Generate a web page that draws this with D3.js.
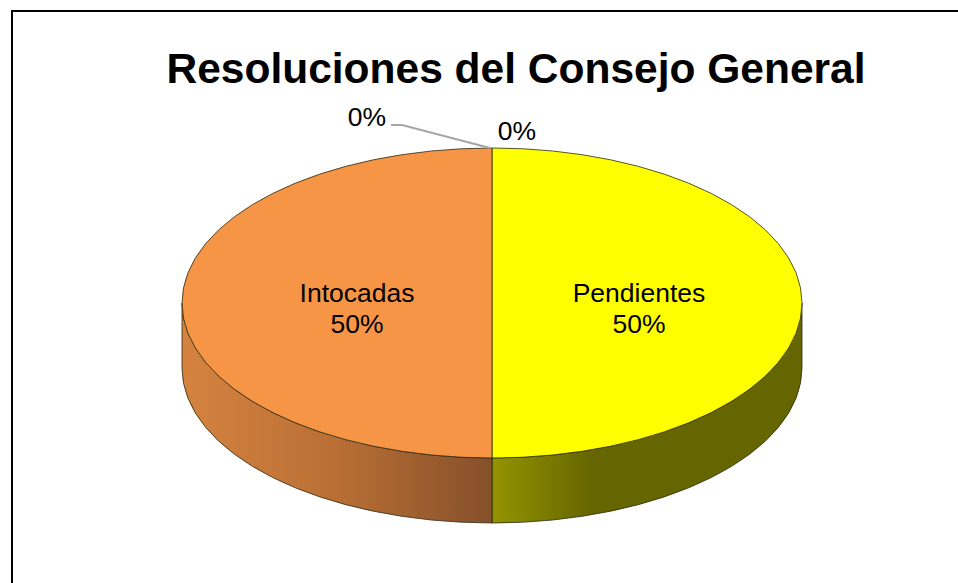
<!DOCTYPE html>
<html>
<head>
<meta charset="utf-8">
<script src="https://cdnjs.cloudflare.com/ajax/libs/d3/7.8.5/d3.min.js"></script>
<style>
  html, body { margin: 0; padding: 0; background: #fff; overflow: hidden; }
  text { font-family: "Liberation Sans", Arial, sans-serif; fill: #000; }
</style>
</head>
<body>
<svg id="chart"></svg>
<script>
const title = 'Resoluciones del Consejo General';
const categories = ['Pendientes', '', '', 'Intocadas'];
const values = [50, 0, 0, 50];
const percentLabels = ['50%', '0%', '0%', '50%'];
const sliceColors = ['#ffff00', '#ffff00', '#f69545', '#f69545'];

const width = 958, height = 583;
const cx = 492, cy = 303, rx = 310, ry = 155, depth = 65;

const svg = d3.select('#chart').attr('width', width).attr('height', height);

// frame runs off the right and bottom of the picture
svg.append('path')
    .attr('d', `M12,${height} V11 H${width}`)
    .attr('fill', 'none')
    .attr('stroke', '#000')
    .attr('stroke-width', 2);

const defs = svg.append('defs');
const sideGradients = [
    { id: 'sideOrange', x1: cx - rx, x2: cx, stops: [['0%', '#d5833f'], ['50%', '#b96f35'], ['100%', '#85502a']] },
    { id: 'sideYellow', x1: cx, x2: cx + rx, stops: [['0%', '#949400'], ['32%', '#666600'], ['100%', '#666600']] }
];
sideGradients.forEach(g => {
    const lg = defs.append('linearGradient')
        .attr('id', g.id)
        .attr('gradientUnits', 'userSpaceOnUse')
        .attr('x1', g.x1).attr('x2', g.x2).attr('y1', 0).attr('y2', 0);
    g.stops.forEach(s => lg.append('stop').attr('offset', s[0]).attr('stop-color', s[1]));
});

const pie = d3.pie().sort(null).value(d => d);
const slices = pie(values);

const px = a => cx + rx * Math.sin(a);
const py = a => cy - ry * Math.cos(a);

// outer wall of a slice, only the part facing the viewer
function wallPath(a0, a1) {
    const from = Math.max(a0, Math.PI / 2), to = Math.min(a1, Math.PI * 1.5);
    if (to <= from) return null;
    return `M${px(from)},${py(from)}` +
        `A${rx},${ry} 0 0 1 ${px(to)},${py(to)}` +
        `V${py(to) + depth}` +
        `A${rx},${ry} 0 0 0 ${px(from)},${py(from) + depth}Z`;
}

const wallFill = ['url(#sideYellow)', null, null, 'url(#sideOrange)'];
slices.forEach((s, i) => {
    const d = wallPath(s.startAngle, s.endAngle);
    if (!d) return;
    svg.append('path')
        .attr('d', d)
        .attr('fill', wallFill[i])
        .attr('stroke', '#2a2a10')
        .attr('stroke-width', 0.8);
});

// top face: d3.arc in a squashed coordinate system
const arc = d3.arc().innerRadius(0).outerRadius(rx);
svg.append('g')
    .attr('transform', `translate(${cx},${cy}) scale(1,${ry / rx})`)
    .selectAll('path')
    .data(slices.filter(s => s.value > 0))
    .join('path')
    .attr('d', arc)
    .attr('fill', d => sliceColors[d.index])
    .attr('stroke', '#2a2a10')
    .attr('stroke-width', 0.8)
    .attr('vector-effect', 'non-scaling-stroke');

// leader for the first 0% label
svg.append('path')
    .attr('d', d3.line()([[391, 125], [402, 125], [490, 148]]))
    .attr('fill', 'none')
    .attr('stroke', '#a6a6a6')
    .attr('stroke-width', 2);

svg.append('text')
    .attr('x', 516).attr('y', 83)
    .attr('text-anchor', 'middle')
    .attr('font-size', 42.5)
    .attr('font-weight', 'bold')
    .text(title);

const labelPos = [
    { x: 639, y: 302 },
    { x: 367, y: 126 },
    { x: 517, y: 140 },
    { x: 357, y: 302 }
];
slices.forEach((s, i) => {
    const t = svg.append('text')
        .attr('text-anchor', 'middle')
        .attr('font-size', 26.5);
    if (categories[i]) {
        t.append('tspan').attr('x', labelPos[i].x).attr('y', labelPos[i].y).text(categories[i]);
        t.append('tspan').attr('x', labelPos[i].x).attr('y', labelPos[i].y + 31).text(percentLabels[i]);
    } else {
        t.append('tspan').attr('x', labelPos[i].x).attr('y', labelPos[i].y).text(percentLabels[i]);
    }
});
</script>
</body>
</html>
